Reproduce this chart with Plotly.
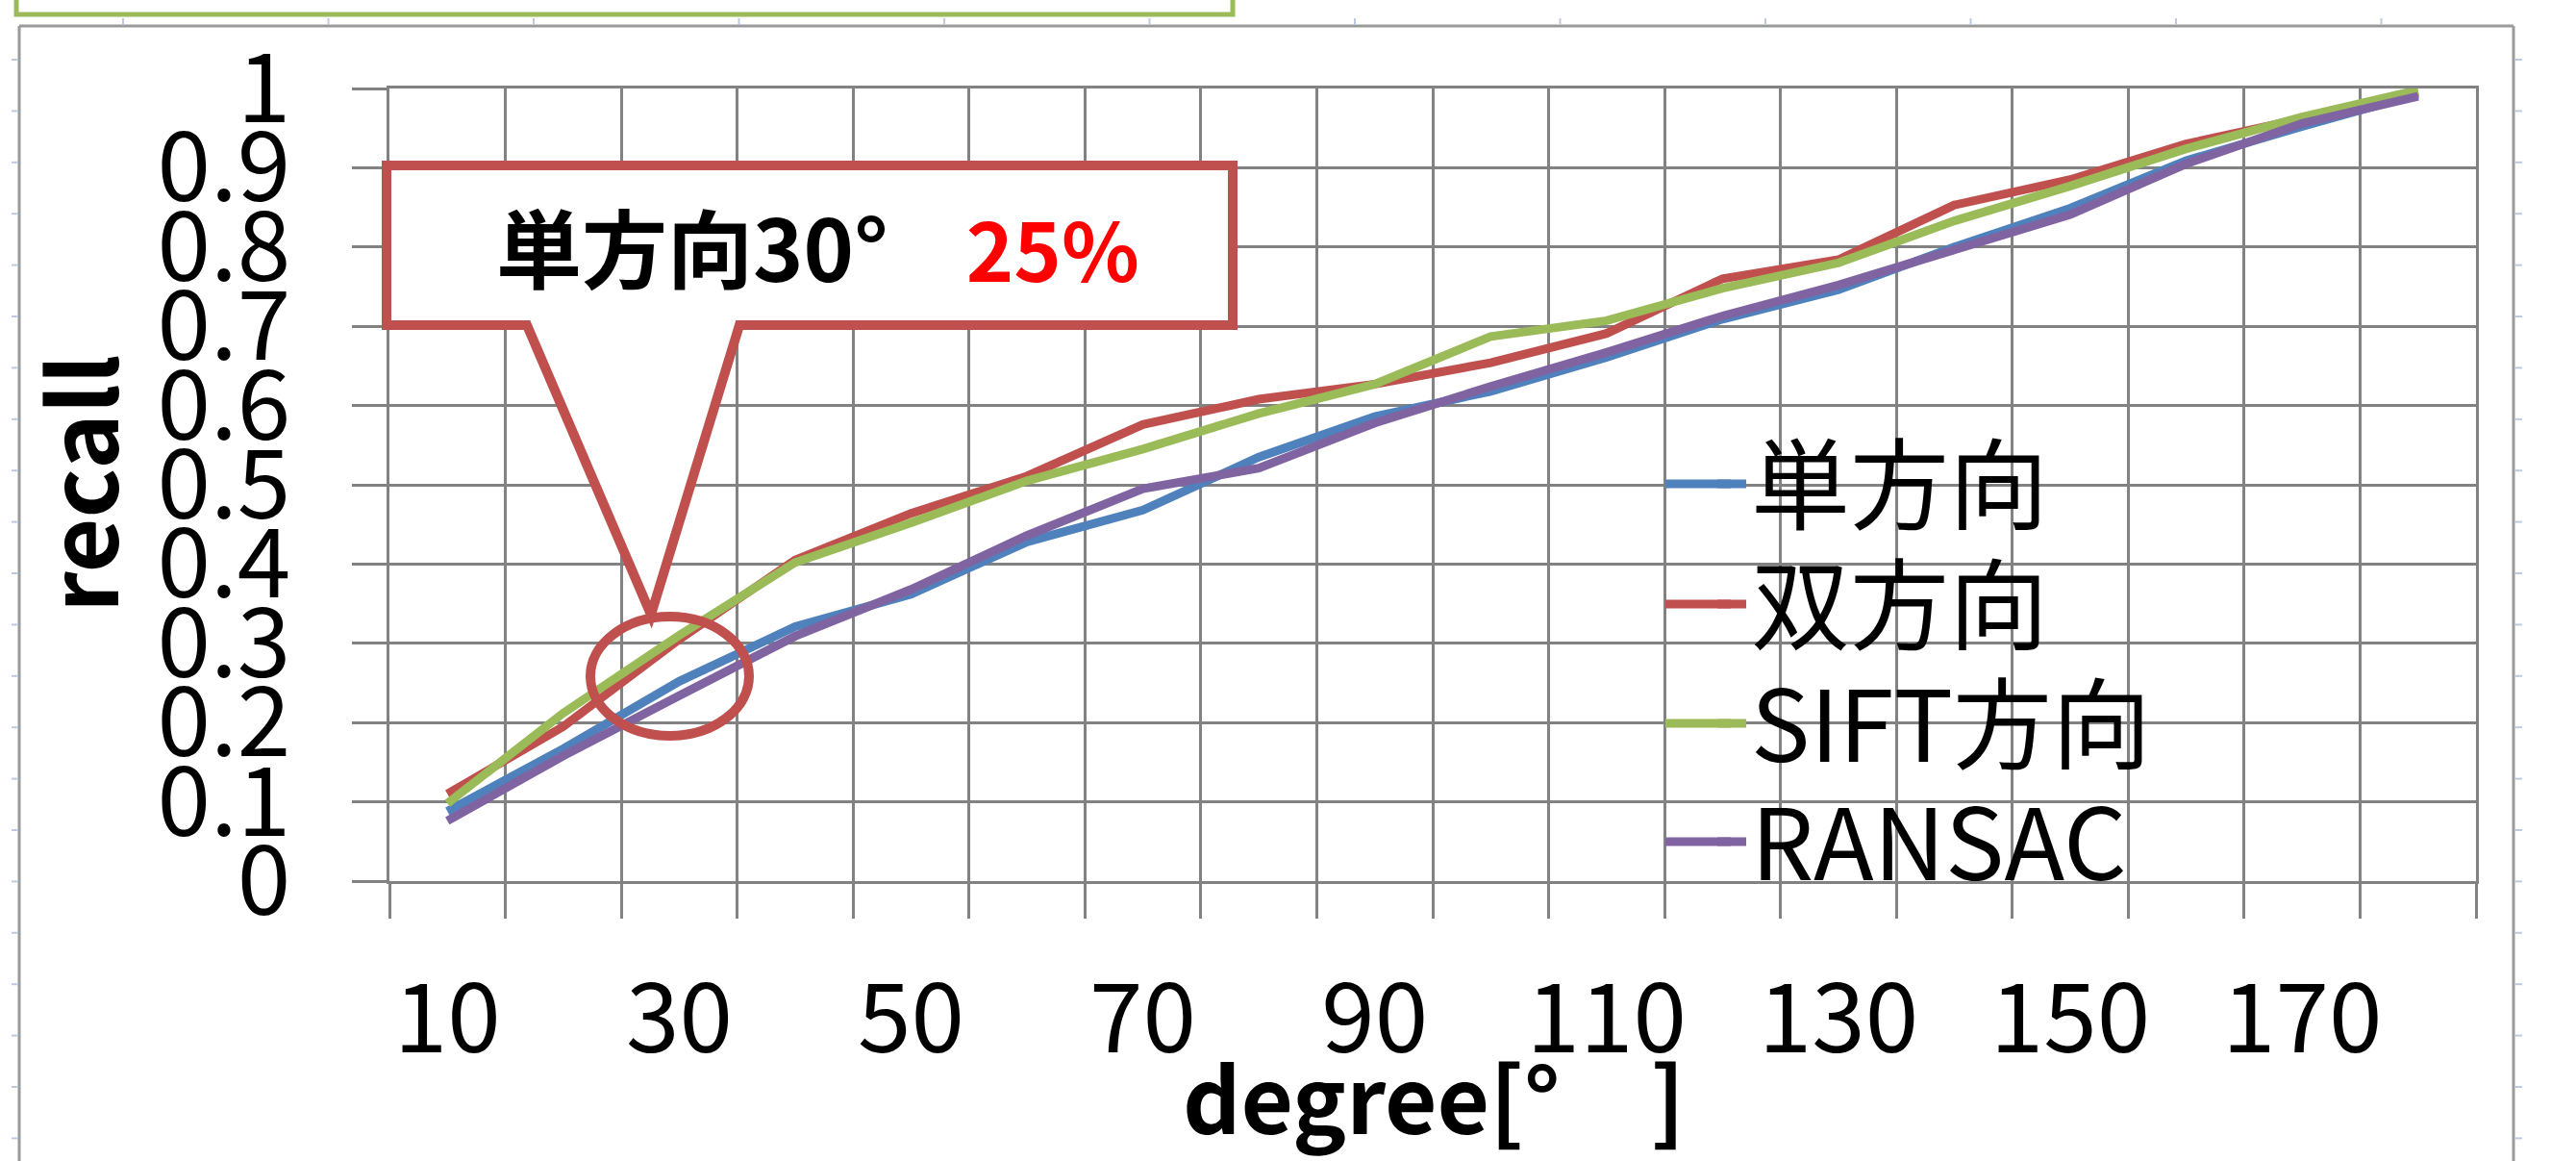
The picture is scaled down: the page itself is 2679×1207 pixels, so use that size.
import plotly.graph_objects as go

# ---------------- data ----------------
degrees = [10, 20, 30, 40, 50, 60, 70, 80, 90, 100, 110, 120, 130, 140, 150, 160, 170, 180]
x_tick_labels = ["10", "30", "50", "70", "90", "110", "130", "150", "170"]
y_tick_values = [0, 0.1, 0.2, 0.3, 0.4, 0.5, 0.6, 0.7, 0.8, 0.9, 1.0]
y_tick_labels = ["0", "0.1", "0.2", "0.3", "0.4", "0.5", "0.6", "0.7", "0.8", "0.9", "1"]

single_dir = [0.088, 0.167, 0.252, 0.321, 0.362, 0.428, 0.468, 0.535, 0.586, 0.618, 0.661,
              0.709, 0.746, 0.800, 0.849, 0.909, 0.952, 0.993]
double_dir = [0.110, 0.195, 0.305, 0.405, 0.464, 0.511, 0.576, 0.608, 0.627, 0.654, 0.691,
              0.760, 0.784, 0.853, 0.885, 0.930, 0.962, 0.996]
sift_dir = [0.098, 0.212, 0.310, 0.402, 0.452, 0.505, 0.545, 0.590, 0.627, 0.687, 0.707,
            0.748, 0.780, 0.833, 0.877, 0.924, 0.964, 0.998]
ransac = [0.076, 0.158, 0.234, 0.309, 0.368, 0.436, 0.495, 0.521, 0.578, 0.624, 0.667,
          0.713, 0.752, 0.796, 0.841, 0.905, 0.956, 0.990]

series_names = ["単方向", "双方向", "SIFT方向", "RANSAC"]
series_values = [single_dir, double_dir, sift_dir, ransac]
series_colors = ["#4F81BD", "#C0504D", "#9BBB59", "#8064A2"]

callout_text = "単方向30°"
callout_value = "25%"
x_title = "degree[°　]"
y_title = "recall"

# ---------------- layout geometry ----------------
W, H = 2679, 1207
PL, PR, PT, PB = 405, 2575, 92, 916          # plot area in pixels
FONT = "Noto Sans CJK JP"
GRID = "#828282"


def px(x):
    return (x - PL) / (PR - PL)


def py(y):
    return (PB - y) / (PB - PT)


cats = [str(d) for d in degrees]
tick_text = [c if c in x_tick_labels else "" for c in cats]

fig = go.Figure()

legend_rows = [503, 628, 752, 875]
legend_layout = {}
shapes = []
for i, (name, vals, col) in enumerate(zip(series_names, series_values, series_colors)):
    key = "legend" if i == 0 else f"legend{i + 1}"
    fig.add_trace(go.Scatter(
        x=cats, y=vals, name=name, mode="lines",
        line=dict(color=col, width=9),
        legend=key,
    ))
    legend_layout[key] = dict(
        x=px(1781), y=py(legend_rows[i]), xanchor="left", yanchor="middle",
        bgcolor="rgba(0,0,0,0)", borderwidth=0,
        font=dict(family=FONT, size=103, color="black"),
    )
    # longer legend key line (Excel style)
    shapes.append(dict(type="line", xref="paper", yref="paper",
                       x0=px(1732), x1=px(1800), y0=py(legend_rows[i]), y1=py(legend_rows[i]),
                       line=dict(color=col, width=9)))

# chart outer frame
FRAME = "#9A9A9A"
shapes.append(dict(type="line", xref="paper", yref="paper", x0=px(20), x1=px(2614), y0=py(27), y1=py(27),
                   line=dict(color=FRAME, width=3)))
shapes.append(dict(type="line", xref="paper", yref="paper", x0=px(20), x1=px(20), y0=py(27), y1=py(1210),
                   line=dict(color=FRAME, width=3)))
shapes.append(dict(type="line", xref="paper", yref="paper", x0=px(2614), x1=px(2614), y0=py(27), y1=py(1210),
                   line=dict(color=FRAME, width=3)))

# slide ruler ticks
TICKC = "#BFC9DF"
xt = 128.0
while xt < 2600:
    shapes.append(dict(type="line", xref="paper", yref="paper", x0=px(xt), x1=px(xt), y0=py(19), y1=py(26),
                       line=dict(color=TICKC, width=2)))
    xt += 213.5
yt = 62.0
while yt < 1207:
    shapes.append(dict(type="line", xref="paper", yref="paper", x0=px(12), x1=px(19), y0=py(yt), y1=py(yt),
                       line=dict(color=TICKC, width=2)))
    shapes.append(dict(type="line", xref="paper", yref="paper", x0=px(2616), x1=px(2623), y0=py(yt), y1=py(yt),
                       line=dict(color=TICKC, width=2)))
    yt += 53.4

# green box at top (slide object)
GB = "#9BBB59"
shapes.append(dict(type="path", xref="paper", yref="paper",
                   path=f"M{px(17)},{py(-5)} L{px(17)},{py(15)} L{px(1282)},{py(15)} L{px(1282)},{py(-5)}",
                   line=dict(color=GB, width=5)))

# callout box with pointer
CR = "#C0504D"
pts = [(402, 172), (1282, 172), (1282, 338), (769, 338), (677, 639), (548, 338), (402, 338)]
path = "M" + " L".join(f"{px(a)},{py(b)}" for a, b in pts) + " Z"
shapes.append(dict(type="path", xref="paper", yref="paper", path=path,
                   fillcolor="white", line=dict(color=CR, width=10), layer="above"))
# circle
shapes.append(dict(type="circle", xref="paper", yref="paper",
                   x0=px(614), x1=px(779), y0=py(765), y1=py(641),
                   line=dict(color=CR, width=10), fillcolor="rgba(0,0,0,0)", layer="above"))

annotations = [
    dict(xref="paper", yref="paper", x=px(80), y=py(503), text=f"<b>{y_title}</b>", textangle=-90,
         showarrow=False, xanchor="center", yanchor="middle",
         font=dict(family=FONT, size=98, color="black")),
    dict(xref="paper", yref="paper", x=px(1491), y=py(1138), text=f"<b>{x_title}</b>",
         showarrow=False, xanchor="center", yanchor="middle",
         font=dict(family=FONT, size=94, color="black")),
    dict(xref="paper", yref="paper", x=px(850), y=py(255),
         text=(f"<b>{callout_text}&nbsp;&nbsp;&nbsp;&nbsp;"
               f"<span style='color:#FF0000;font-size:84px'>{callout_value}</span></b>"),
         showarrow=False, xanchor="center", yanchor="middle",
         font=dict(family=FONT, size=89, color="black")),
]

fig.update_layout(
    width=W, height=H,
    margin=dict(l=PL, r=W - PR, t=PT, b=H - PB, pad=0),
    paper_bgcolor="white", plot_bgcolor="white",
    showlegend=True,
    shapes=shapes,
    annotations=annotations,
    **legend_layout,
)

fig.update_xaxes(
    type="category", categoryorder="array", categoryarray=cats,
    range=[-0.5, len(cats) - 0.5],
    tickmode="array", tickvals=cats, ticktext=tick_text,
    tickson="boundaries", tickangle=0,
    ticks="outside", ticklen=36, tickwidth=2.5, tickcolor=GRID,
    showgrid=True, gridcolor=GRID, gridwidth=2.5,
    showline=True, linecolor=GRID, linewidth=2.5, mirror=True,
    zeroline=False,
    tickfont=dict(family=FONT, size=100, color="black"),
    ticklabelstandoff=55,
)
fig.update_yaxes(
    range=[0, 1],
    tickmode="array", tickvals=y_tick_values, ticktext=y_tick_labels,
    ticks="outside", ticklen=36, tickwidth=2.5, tickcolor=GRID,
    showgrid=True, gridcolor=GRID, gridwidth=2.5,
    showline=True, linecolor=GRID, linewidth=2.5, mirror=True,
    zeroline=False,
    tickfont=dict(family=FONT, size=100, color="black"),
    ticklabelstandoff=44,
)

fig.write_html("out.html", config={"displayModeBar": False},
               post_script="document.body.style.margin='0px';document.body.style.overflow='hidden';")
